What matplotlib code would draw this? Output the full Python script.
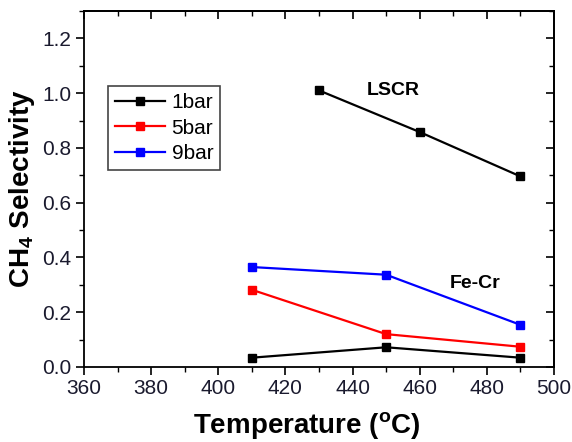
import numpy as np
import matplotlib.pyplot as plt
from matplotlib.ticker import MultipleLocator

plt.rcParams['font.family'] = ['Liberation Sans', 'DejaVu Sans']

# LSCR catalyst, 1 bar
lscr_temp = [430, 460, 490]
lscr_1bar = [1.01, 0.858, 0.696]

# Fe-Cr catalyst
fecr_temp = [410, 450, 490]
fecr_1bar = [0.034, 0.072, 0.034]
fecr_5bar = [0.282, 0.120, 0.074]
fecr_9bar = [0.365, 0.337, 0.154]

fig = plt.figure(figsize=(5.72, 4.42), dpi=100)
ax = fig.add_axes([84 / 572, 75 / 442, 470 / 572, 356 / 442])

mk = dict(marker='s', markersize=6, linewidth=1.6)
ax.plot(lscr_temp, lscr_1bar, color='black', **mk)
ax.plot(fecr_temp, fecr_1bar, color='black', label='1bar', **mk)
ax.plot(fecr_temp, fecr_5bar, color='red', label='5bar', **mk)
ax.plot(fecr_temp, fecr_9bar, color='blue', label='9bar', **mk)

ax.text(452, 1.01, 'LSCR', fontsize=14, fontweight='bold', ha='center', va='center')
ax.text(476.5, 0.305, 'Fe-Cr', fontsize=14, fontweight='bold', ha='center', va='center')

ax.set_xlim(360, 500)
ax.set_ylim(0, 1.3)
ax.xaxis.set_major_locator(MultipleLocator(20))
ax.xaxis.set_minor_locator(MultipleLocator(10))
ax.yaxis.set_major_locator(MultipleLocator(0.2))
ax.yaxis.set_minor_locator(MultipleLocator(0.1))
ax.yaxis.set_major_formatter(plt.FormatStrFormatter('%.1f'))

ax.tick_params(which='both', direction='out', labelsize=15, colors='black', pad=3)
ax.tick_params(which='major', length=6, width=1.2)
ax.tick_params(which='minor', length=3.5, width=1.0)
ax.tick_params(axis='both', labelcolor='#1a1a2e')
for s in ax.spines.values():
    s.set_linewidth(1.3)

# inward ticks on the top and right spines
top = ax.secondary_xaxis('top')
top.xaxis.set_major_locator(MultipleLocator(20))
top.xaxis.set_minor_locator(MultipleLocator(10))
top.tick_params(which='both', direction='in', labeltop=False)
top.tick_params(which='major', length=6, width=1.2)
top.tick_params(which='minor', length=3.5, width=1.0)
top.spines['top'].set_linewidth(1.3)

right = ax.secondary_yaxis('right')
right.yaxis.set_major_locator(MultipleLocator(0.2))
right.yaxis.set_minor_locator(MultipleLocator(0.1))
right.tick_params(which='both', direction='in', labelright=False)
right.tick_params(which='major', length=6, width=1.2)
right.tick_params(which='minor', length=3.5, width=1.0)
right.spines['right'].set_linewidth(1.3)

ax.set_xlabel('Temperature ($\\mathregular{^oC}$)', fontsize=20, fontweight='bold')
ax.xaxis.set_label_coords(0.475, -0.12)
ax.set_ylabel('CH$\\mathregular{_4}$ Selectivity', fontsize=20, fontweight='bold', labelpad=4)

leg = ax.legend(loc='upper left', bbox_to_anchor=(0.051, 0.789), borderaxespad=0,
                fontsize=15, fancybox=False, framealpha=1, edgecolor='#444444',
                handlelength=2.4, borderpad=0.35, labelspacing=0.3, handletextpad=0.3)
leg.get_frame().set_linewidth(1.2)

fig.savefig('out.png', dpi=100)
